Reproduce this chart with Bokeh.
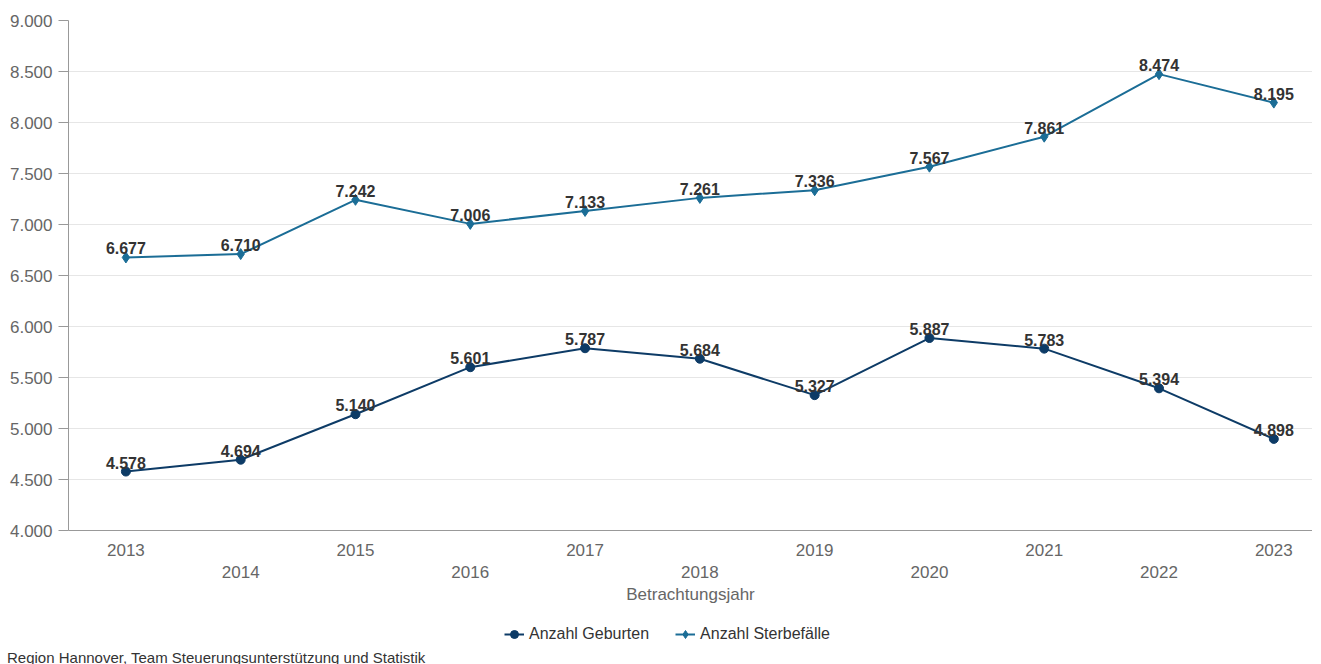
from bokeh.plotting import figure
from bokeh.layouts import column
from bokeh.models import (Range1d, FixedTicker, Legend, LegendItem, Div, ColumnDataSource)
from bokeh.embed import file_html
from bokeh.resources import INLINE
from bokeh.core.properties import value

years = [2013, 2014, 2015, 2016, 2017, 2018, 2019, 2020, 2021, 2022, 2023]
geburten = [4578, 4694, 5140, 5601, 5787, 5684, 5327, 5887, 5783, 5394, 4898]
sterbefaelle = [6677, 6710, 7242, 7006, 7133, 7261, 7336, 7567, 7861, 8474, 8195]
y_ticks = [4000, 4500, 5000, 5500, 6000, 6500, 7000, 7500, 8000, 8500, 9000]
series_names = ["Anzahl Geburten", "Anzahl Sterbefälle"]
x_title = "Betrachtungsjahr"
source_text = "Region Hannover, Team Steuerungsunterstützung und Statistik"

def de_fmt(v):
    return f"{v:,}".replace(",", ".")

FONT = "Liberation Sans"
C_GEB = "#0d3b66"
C_STB = "#1b6d96"

W = 1312
p = figure(output_backend="svg", toolbar_location=None,
           width=W, height=614,
           min_border_left=68, min_border_top=20, min_border_right=0, min_border_bottom=84,
           x_range=Range1d(2012.5, 2023.337), y_range=Range1d(4000, 9000))
p.outline_line_color = None
p.background_fill_color = "white"

src = ColumnDataSource(dict(
    x=years, g=geburten, s=sterbefaelle,
    gl=[de_fmt(v) for v in geburten], sl=[de_fmt(v) for v in sterbefaelle]))

p.line("x", "g", source=src, line_color=C_GEB, line_width=2)
p.scatter("x", "g", source=src, marker="circle", size=9, fill_color=C_GEB, line_color=C_GEB)
p.line("x", "s", source=src, line_color=C_STB, line_width=2)
p.scatter("x", "s", source=src, marker="diamond", size=11, fill_color=C_STB, line_color=C_STB)

for col in ["gl", "sl"]:
    ycol = "g" if col == "gl" else "s"
    p.text("x", ycol, text=col, source=src, text_align="center", text_baseline="bottom",
           y_offset=-3, text_font=value(FONT), text_font_size="16px",
           text_font_style="bold", text_color="#333333")

p.xaxis.ticker = FixedTicker(ticks=years)
p.xaxis.major_label_overrides = {y: (str(y) if i % 2 == 0 else "\n" + str(y)) for i, y in enumerate(years)}
p.yaxis.ticker = FixedTicker(ticks=y_ticks)
p.yaxis.major_label_overrides = {t: de_fmt(t) for t in y_ticks}
for ax in (p.xaxis, p.yaxis):
    ax.axis_line_color = "#999999"
    ax.major_label_text_font = FONT
    ax.major_label_text_font_size = "17px"
    ax.major_label_text_color = "#666666"
    ax.minor_tick_line_color = None
p.xaxis.major_tick_line_color = None
p.xaxis.major_tick_out = 0
p.xaxis.major_label_standoff = 10
p.yaxis.major_tick_line_color = "#999999"
p.yaxis.major_tick_out = 10
p.yaxis.major_tick_in = 0
p.yaxis.major_label_standoff = 6
p.xaxis.axis_label = x_title
p.xaxis.axis_label_text_font = FONT
p.xaxis.axis_label_text_font_size = "17px"
p.xaxis.axis_label_text_font_style = "normal"
p.xaxis.axis_label_text_color = "#666666"
p.xaxis.axis_label_standoff = 0

p.xgrid.grid_line_color = None
p.ygrid.grid_line_color = "#e6e6e6"

# legend strip
p2 = figure(output_backend="svg", toolbar_location=None, width=W, height=35,
            min_border=0, x_axis_location=None, y_axis_location=None,
            x_range=Range1d(0, W), y_range=Range1d(0, 35))
p2.grid.grid_line_color = None
p2.outline_line_color = None
proxy = ColumnDataSource(dict(x=[-1000], y=[-1000]))
lg = p2.line("x", "y", source=proxy, line_color=C_GEB, line_width=2)
mg = p2.scatter("x", "y", source=proxy, marker="circle", size=9, fill_color=C_GEB, line_color=C_GEB)
ls = p2.line("x", "y", source=proxy, line_color=C_STB, line_width=2)
ms = p2.scatter("x", "y", source=proxy, marker="diamond", size=11, fill_color=C_STB, line_color=C_STB)

legend = Legend(items=[LegendItem(label=series_names[0], renderers=[lg, mg]),
                       LegendItem(label=series_names[1], renderers=[ls, ms])],
                orientation="horizontal", location=(436, 5),
                label_text_font=FONT, label_text_font_size="16px", label_text_color="#333333",
                border_line_color=None, background_fill_alpha=0,
                glyph_width=20, label_standoff=5, spacing=26, margin=0, padding=6)
p2.add_layout(legend, "center")

source_div = Div(text=source_text, width=W - 10, height=20, margin=(0, 0, 0, 7),
                 styles={"font-family": FONT, "font-size": "15px", "line-height": "18px",
                         "color": "#333333"})

layout = column(p, p2, source_div, spacing=0)
open("out.html", "w").write(file_html(layout, INLINE))
